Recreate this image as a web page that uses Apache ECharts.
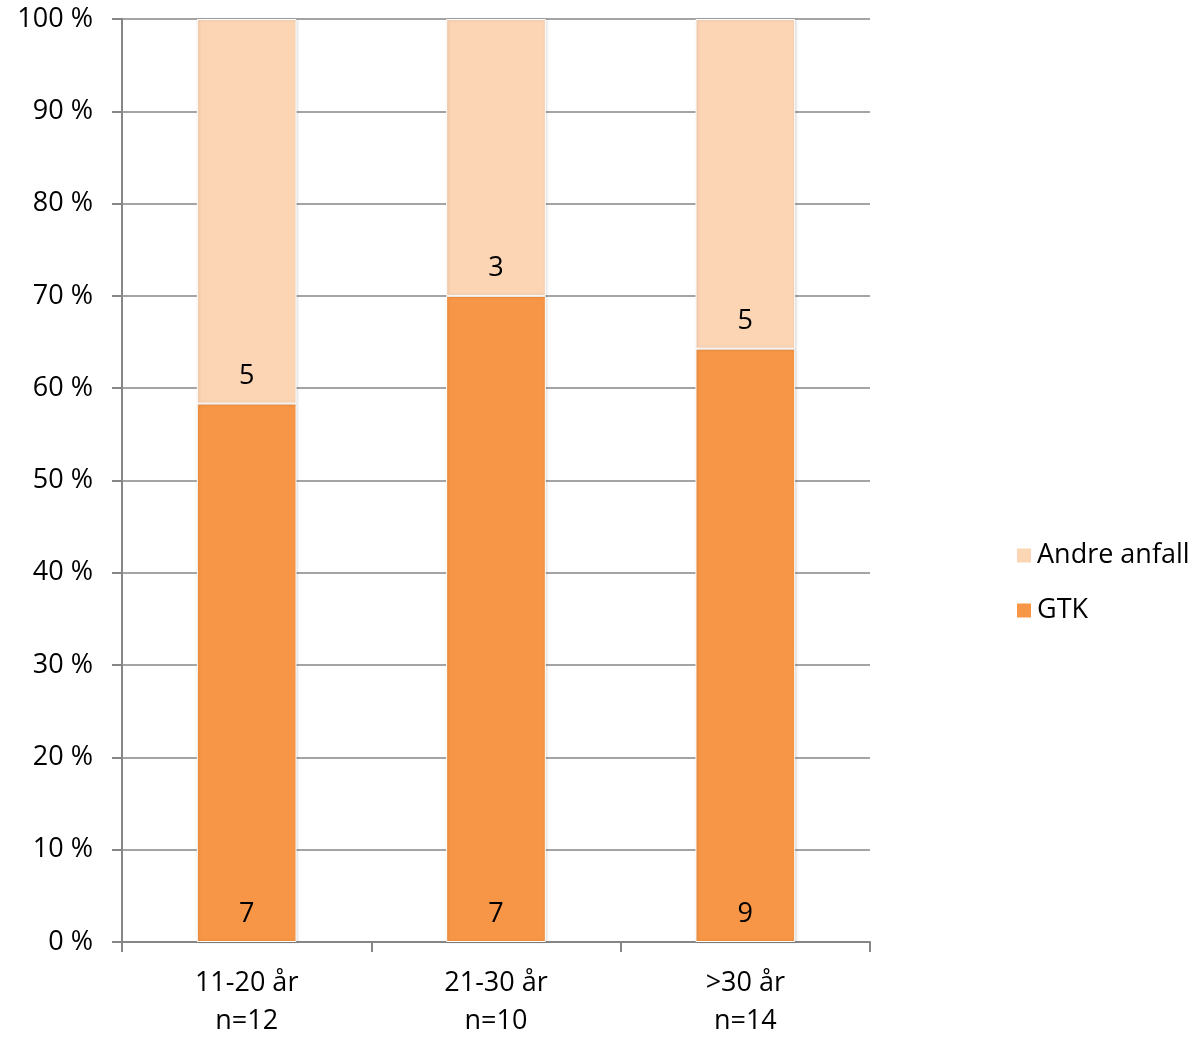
<!DOCTYPE html>
<html>
<head>
<meta charset="utf-8">
<script src="https://cdn.jsdelivr.net/npm/echarts@6/dist/echarts.min.js"></script>
<style>
  html, body { margin: 0; padding: 0; background: #fff; }
  #chart { width: 1202px; height: 1037px; }
</style>
</head>
<body>
<div id="chart"></div>
<script>
// Age groups and counts of seizure types per group
const categories = ['11-20 år\nn=12', '21-30 år\nn=10', '>30 år\nn=14'];
const gtkCounts = [7, 7, 9];
const andreCounts = [5, 3, 5];
const yTicks = [0, 10, 20, 30, 40, 50, 60, 70, 80, 90, 100];

const totals = gtkCounts.map((v, i) => v + andreCounts[i]);
const toShare = (arr) => arr.map((v, i) => v / totals[i] * 100);

const FONT = '"Open Sans", "Liberation Sans", sans-serif';
const FS = 27;
const axisGray = '#868686';

const chart = echarts.init(document.getElementById('chart'));

function seriesOf(name, counts, color) {
  return {
    name: name,
    type: 'bar',
    stack: 'total',
    barWidth: '40%',
    data: toShare(counts),
    itemStyle: {
      color: color,
      borderColor: '#ffffff',
      borderWidth: 1,
      shadowColor: 'rgba(0,0,0,0.18)',
      shadowBlur: 3,
      shadowOffsetX: 1
    },
    label: {
      show: true,
      position: 'insideBottom',
      distance: 14,
      color: '#000',
      fontFamily: FONT,
      fontSize: FS,
      formatter: (p) => String(counts[p.dataIndex])
    }
  };
}

chart.setOption({
  animation: false,
  textStyle: { fontFamily: FONT },
  grid: {
    left: 122, right: 332, top: 19, bottom: 95,
    containLabel: false,
    outerBoundsMode: 'none'
  },
  legend: {
    orient: 'vertical',
    left: 1010,
    top: 537,
    itemWidth: 16,
    itemHeight: 16,
    itemGap: 28,
    icon: 'rect',
    data: ['Andre anfall', 'GTK'],
    textStyle: { fontFamily: FONT, fontSize: FS, color: '#000', padding: [0, 0, 0, 0] }
  },
  xAxis: {
    type: 'category',
    data: categories,
    axisLine: { lineStyle: { color: axisGray, width: 2 } },
    axisTick: { show: true, length: 10, lineStyle: { color: axisGray, width: 2 } },
    axisLabel: {
      color: '#000',
      fontFamily: FONT,
      fontSize: FS,
      lineHeight: 38,
      margin: 22
    }
  },
  yAxis: {
    type: 'value',
    min: 0,
    max: 100,
    interval: 10,
    axisLine: { show: true, lineStyle: { color: axisGray, width: 2 } },
    axisTick: { show: true, length: 10, lineStyle: { color: axisGray, width: 2 } },
    splitLine: { lineStyle: { color: axisGray, width: 1.5 } },
    axisLabel: {
      color: '#000',
      fontFamily: FONT,
      fontSize: FS,
      margin: 29,
      formatter: (v) => yTicks.includes(v) ? v + ' %' : ''
    }
  },
  series: [
    seriesOf('GTK', gtkCounts, '#F79646'),
    seriesOf('Andre anfall', andreCounts, '#FCD5B5')
  ]
});
</script>
</body>
</html>
